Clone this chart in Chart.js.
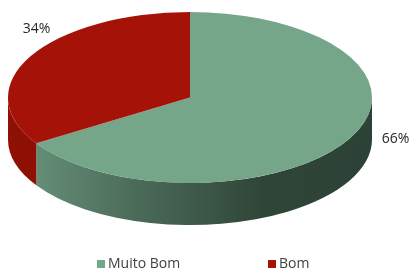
<!DOCTYPE html>
<html>
<head>
<meta charset="utf-8">
<script src="https://cdn.jsdelivr.net/npm/chart.js@4.4.1/dist/chart.umd.min.js"></script>
<style>
  html, body { margin: 0; padding: 0; background: #fff; }
  #wrap { width: 411px; height: 271px; }
</style>
</head>
<body>
<div id="wrap"><canvas id="myChart" width="411" height="271"></canvas></div>
<script>
// data
var labels = ['Muito Bom', 'Bom'];
var values = [66, 34];
var topColors = ['#76a68a', '#a51308'];
var sideColors = [['#6b977f', '#4b6b59', '#2f4538', '#2d4236'], ['#8f1005', '#8a0e04', '#7e0c03', '#7a0b03']];

// label offsets from the slice's edge point (px)
var labelOffsets = [[46, 0], [6, -27]];

var FONT = '"Open Sans", "DejaVu Sans", sans-serif';
var DEPTH = 42;

function ellipseGeom(chart) {
    var a = chart.chartArea;
    var rx = (a.right - a.left) / 2;
    var ry = (a.bottom - a.top - DEPTH) / 2;
    return { cx: a.left + rx, cy: a.top + ry, rx: rx, ry: ry };
}

// squash the pie into a tilted disc and draw its side walls
var pie3d = {
    id: 'pie3d',
    beforeDatasetsDraw: function (chart) {
        var ctx = chart.ctx;
        var g = ellipseGeom(chart);
        var arcs = chart.getDatasetMeta(0).data;

        arcs.forEach(function (arc, i) {
            var a1 = Math.max(arc.startAngle, 0);
            var a2 = Math.min(arc.endAngle, Math.PI);
            if (a1 >= a2) return;
            var grad = ctx.createLinearGradient(g.cx - g.rx, 0, g.cx + g.rx, 0);
            var st = sideColors[i];
            grad.addColorStop(0, st[0]);
            grad.addColorStop(0.35, st[1]);
            grad.addColorStop(0.7, st[2]);
            grad.addColorStop(1, st[3]);
            ctx.save();
            ctx.beginPath();
            ctx.ellipse(g.cx, g.cy, g.rx, g.ry, 0, a1, a2, false);
            ctx.lineTo(g.cx + g.rx * Math.cos(a2), g.cy + DEPTH + g.ry * Math.sin(a2));
            ctx.ellipse(g.cx, g.cy + DEPTH, g.rx, g.ry, 0, a2, a1, true);
            ctx.closePath();
            ctx.fillStyle = grad;
            ctx.fill();
            ctx.restore();
        });

        var arc0 = arcs[0];
        var R = arc0.outerRadius;
        ctx.save();
        ctx.translate(g.cx, g.cy);
        ctx.scale(g.rx / R, g.ry / R);
        ctx.translate(-arc0.x, -arc0.y);
    },
    afterDatasetsDraw: function (chart) {
        var ctx = chart.ctx;
        ctx.restore();
        var g = ellipseGeom(chart);
        var arcs = chart.getDatasetMeta(0).data;
        var total = values.reduce(function (s, v) { return s + v; }, 0);

        // percentage labels
        ctx.save();
        ctx.font = '14px ' + FONT;
        ctx.fillStyle = '#262626';
        ctx.textAlign = 'center';
        ctx.textBaseline = 'middle';
        arcs.forEach(function (arc, i) {
            var mid = (arc.startAngle + arc.endAngle) / 2;
            var x = g.cx + g.rx * Math.cos(mid) + labelOffsets[i][0];
            var y = g.cy + g.ry * Math.sin(mid) + labelOffsets[i][1];
            ctx.fillText(Math.round(values[i] / total * 100) + '%', x, y);
        });

        // legend
        var legendX = [97, 268];
        var ly = 264;
        ctx.textAlign = 'left';
        ctx.font = '14px ' + FONT;
        labels.forEach(function (lab, i) {
            ctx.fillStyle = topColors[i];
            ctx.fillRect(legendX[i], ly - 4, 8, 8);
            ctx.fillStyle = '#404040';
            ctx.fillText(lab, legendX[i] + 11, ly);
        });
        ctx.restore();
    }
};

var ctx = document.getElementById('myChart').getContext('2d');
var myChart = new Chart(ctx, {
    type: 'pie',
    data: {
        labels: labels,
        datasets: [{
            data: values,
            backgroundColor: topColors,
            borderWidth: 0
        }]
    },
    options: {
        responsive: false,
        animation: false,
        events: [],
        layout: { padding: { left: 8, right: 39, top: 12, bottom: 46 } },
        plugins: {
            legend: { display: false },
            tooltip: { enabled: false }
        }
    },
    plugins: [pie3d]
});
</script>
</body>
</html>
